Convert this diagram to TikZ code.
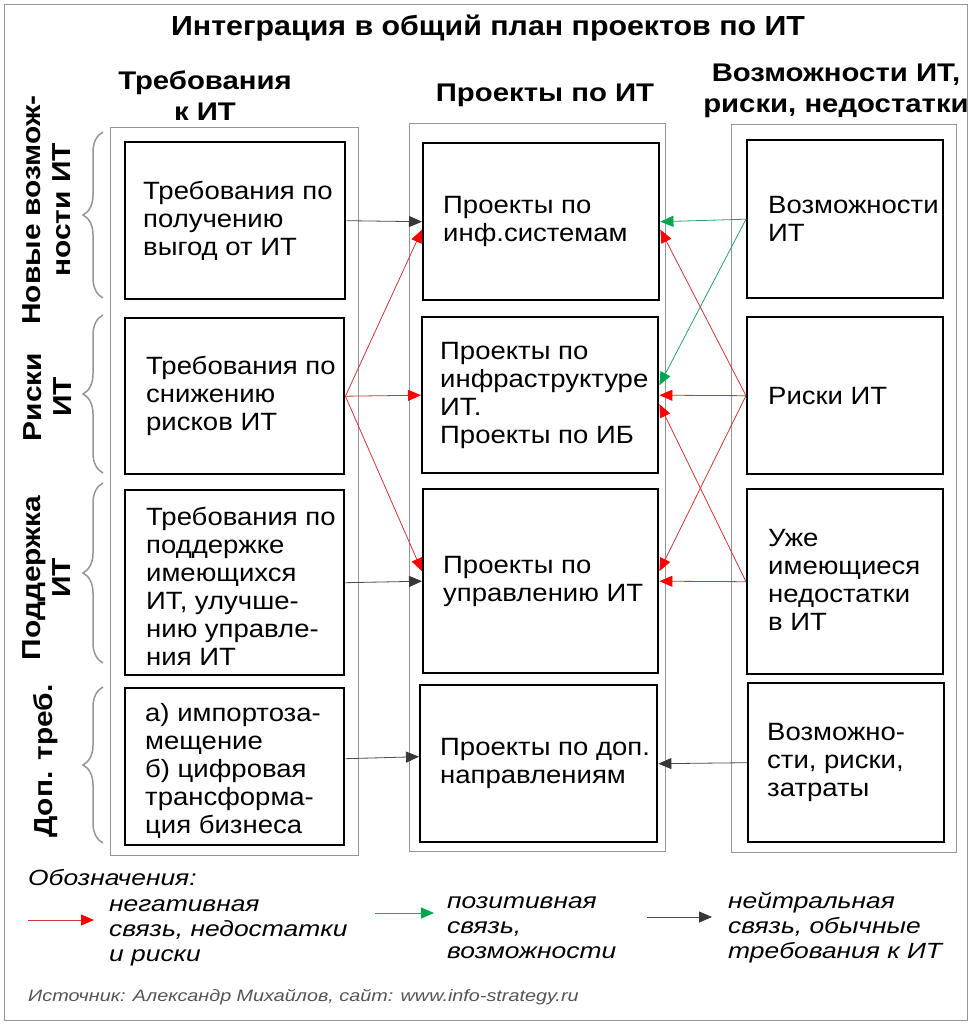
\documentclass[tikz,border=0pt]{standalone}
\usepackage{fontspec}
\setmainfont{Liberation Sans}
\newfontfamily\boxfam[FakeStretch=1.1]{Liberation Sans}
\newfontfamily\titlefam[FakeStretch=1.1]{Liberation Sans}
\newfontfamily\headfam[FakeStretch=1.15]{Liberation Sans}
\newfontfamily\legfam[FakeStretch=1.2]{Liberation Sans}
\usetikzlibrary{arrows.meta,decorations.pathreplacing}
\definecolor{negline}{RGB}{205,55,55}
\definecolor{neghead}{RGB}{255,0,0}
\definecolor{posline}{RGB}{40,160,110}
\definecolor{poshead}{RGB}{0,165,80}
\definecolor{neuline}{RGB}{75,75,75}
\definecolor{neuhead}{RGB}{55,55,55}
\definecolor{frame}{RGB}{150,150,150}
\definecolor{srcgray}{RGB}{85,85,85}
\begin{document}
\begin{tikzpicture}[x=1pt,y=-1pt,
  box/.style={draw=black, line width=2.4pt, inner sep=0pt, anchor=north west},
  grp/.style={draw=frame, line width=1.3pt, inner sep=0pt, anchor=north west},
  txt/.style={font=\boxfam\fontsize{25}{28}\selectfont, anchor=west, align=left, inner sep=0pt},
  head/.style={font=\headfam\bfseries\fontsize{25.5}{31}\selectfont, align=center, inner sep=0pt},
  side/.style={font=\headfam\bfseries\fontsize{26}{30}\selectfont, align=center, inner sep=0pt, rotate=90},
  brc/.style={draw=frame, line width=1.5pt, decorate, decoration={brace, amplitude=20pt}},
  leg/.style={font=\legfam\itshape\fontsize{22}{25}\selectfont, anchor=west, align=left, inner sep=0pt},
  negarr/.style={draw=negline, line width=0.8pt, -{Triangle[length=13pt,width=11pt,color=neghead]}},
  posarr/.style={draw=posline, line width=0.8pt, -{Triangle[length=13pt,width=11pt,color=poshead]}},
  neuarr/.style={draw=neuline, line width=0.8pt, -{Triangle[length=13pt,width=11pt,color=neuhead]}}
]
\useasboundingbox (0,0) rectangle (977,1024);
\fill[white] (0,0) rectangle (977,1024);
\node[grp, minimum width=963pt, minimum height=1016pt] (outer) at (4,4) {};

% title and headers
\node[font=\titlefam\bfseries\fontsize{27.6}{32}\selectfont, inner sep=0pt] (title) at (488,28) {Интеграция в общий план проектов по ИТ};
\node[head] (h1) at (205,96) {Требования\\к ИТ};
\node[head] (h2) at (545,95) {Проекты по ИТ};
\node[head] (h3) at (836,91) {Возможности ИТ,\\риски, недостатки};

% group frames
\node[grp, minimum width=248pt, minimum height=728pt] (GL) at (110,127) {};
\node[grp, minimum width=256pt, minimum height=728pt] (GM) at (409,123) {};
\node[grp, minimum width=225pt, minimum height=728pt] (GR) at (731,124) {};

% boxes
\node[box, minimum width=220pt, minimum height=157pt] (L1) at (124,141) {};
\node[box, minimum width=219pt, minimum height=156pt] (L2) at (124,317) {};
\node[box, minimum width=219pt, minimum height=185pt] (L3) at (124,489) {};
\node[box, minimum width=219pt, minimum height=157pt] (L4) at (124,687) {};
\node[box, minimum width=236pt, minimum height=157pt] (M1) at (422,142) {};
\node[box, minimum width=236pt, minimum height=156pt] (M2) at (421,316) {};
\node[box, minimum width=235pt, minimum height=184pt] (M3) at (422,488) {};
\node[box, minimum width=237pt, minimum height=157pt] (M4) at (419,684) {};
\node[box, minimum width=196pt, minimum height=158pt] (R1) at (746,139) {};
\node[box, minimum width=196pt, minimum height=157pt] (R2) at (746,316) {};
\node[box, minimum width=196pt, minimum height=185pt] (R3) at (746,488) {};
\node[box, minimum width=196pt, minimum height=159pt] (R4) at (747,682) {};

% box texts
\node[txt] (tL1) at ([xshift=19pt]L1.west) {Требования по\\получению\\выгод от ИТ};
\node[txt] (tL2) at ([xshift=22pt]L2.west) {Требования по\\снижению\\рисков ИТ};
\node[txt] (tL3) at ([xshift=22pt,yshift=-4pt]L3.west) {Требования по\\поддержке\\имеющихся\\ИТ, улучше-\\нию управле-\\ния ИТ};
\node[txt] (tL4) at ([xshift=21pt,yshift=-4pt]L4.west) {а) импортоза-\\мещение\\б) цифровая\\трансформа-\\ция бизнеса};
\node[txt] (tM1) at ([xshift=21pt]M1.west) {Проекты по\\инф.системам};
\node[txt] (tM2) at ([xshift=19pt]M2.west) {Проекты по\\инфраструктуре\\ИТ.\\Проекты по ИБ};
\node[txt] (tM3) at ([xshift=21pt]M3.west) {Проекты по\\управлению ИТ};
\node[txt] (tM4) at ([xshift=21pt]M4.west) {Проекты по доп.\\направлениям};
\node[txt] (tR1) at ([xshift=22pt]R1.west) {Возможности\\ИТ};
\node[txt] (tR2) at ([xshift=22pt]R2.west) {Риски ИТ};
\node[txt] (tR3) at ([xshift=22pt,yshift=2pt]R3.west) {Уже\\имеющиеся\\недостатки\\в ИТ};
\node[txt] (tR4) at ([xshift=20pt]R4.west) {Возможно-\\сти, риски,\\затраты};

% braces and side labels
\draw[brc] (103,298) -- (103,132);
\draw[brc] (103,473) -- (103,315);
\draw[brc] (103,663) -- (103,483);
\draw[brc] (103,843) -- (103,687);
\node[side] (s1) at (47,210) {Новые возмож-\\ности ИТ};
\node[side] (s2) at (48,397) {Риски\\ИТ};
\node[side] (s3) at (47,578) {Поддержка\\ИТ};
\node[side] (s4) at (46,761) {Доп. треб.};

% connectors left -> middle
\draw[neuarr] (L1.east) -- (M1.west);
\draw[negarr] (L2.east) -- ([yshift=-8pt]M1.west);
\draw[negarr] (L2.east) -- (M2.west);
\draw[negarr] (L2.east) -- ([yshift=10pt]M3.west);
\draw[neuarr] (L3.east) -- (M3.west);
\draw[neuarr] ([yshift=8pt]L4.east) -- ([yshift=7pt]M4.west);
% connectors right -> middle
\draw[posarr] (R1.west) -- (M1.east);
\draw[posarr] (R1.west) -- ([yshift=10pt]M2.east);
\draw[negarr] (R2.west) -- ([yshift=-8pt]M1.east);
\draw[negarr] (R2.west) -- (M2.east);
\draw[negarr] (R2.west) -- ([yshift=10pt]M3.east);
\draw[negarr] (R3.west) -- ([yshift=-9pt]M2.east);
\draw[negarr] (R3.west) -- (M3.east);
\draw[neuarr] (R4.west) -- (M4.east);

% legend
\node[leg] (legtitle) at (28,878) {Обозначения:};
\coordinate (la1) at (28,920); \coordinate (lb1) at (94,920);
\coordinate (la2) at (375,913); \coordinate (lb2) at (434,913);
\coordinate (la3) at (647,917); \coordinate (lb3) at (712,917);
\draw[negarr] (la1) -- (lb1);
\draw[posarr] (la2) -- (lb2);
\draw[neuarr] (la3) -- (lb3);
\node[leg] (lt1) at (109,933) {негативная\\связь, недостатки\\и риски};
\node[leg] (lt2) at (447,928) {позитивная\\связь,\\возможности};
\node[leg] (lt3) at (728,928) {нейтральная\\связь, обычные\\требования к ИТ};
\node[font=\legfam\itshape\fontsize{16.5}{19}\selectfont, text=srcgray, anchor=west, inner sep=0pt] (src) at (28,997) {Источник: Александр Михайлов, сайт: www.info-strategy.ru};
\end{tikzpicture}
\end{document}
